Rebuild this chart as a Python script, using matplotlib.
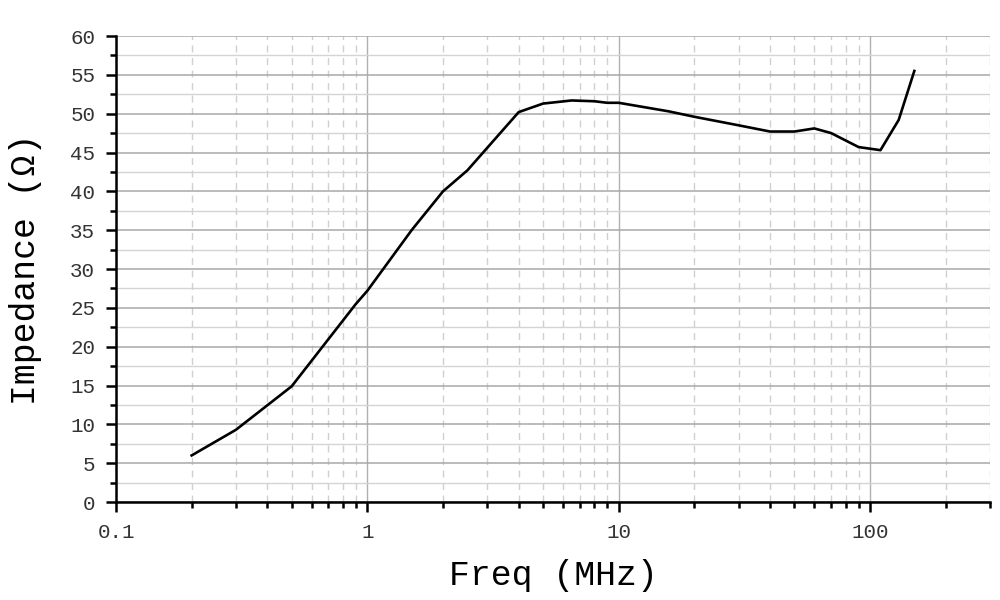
# librerías
import matplotlib
matplotlib.use("Agg")
import matplotlib.pyplot as plt
from matplotlib.ticker import FixedLocator, NullFormatter

# datos (MHz, ohm)
freq = [0.2, 0.3, 0.5, 0.9, 1.0, 1.5, 2.0, 2.5, 4.0, 5.0, 6.5, 8.0, 9.0, 10, 15.8, 20, 30, 40, 50, 60, 70, 90, 110, 130, 150]
imped = [6.0, 9.3, 14.9, 25.5, 27.2, 35.0, 40.0, 42.7, 50.2, 51.3, 51.7, 51.6, 51.4, 51.4, 50.3, 49.6, 48.5, 47.7, 47.7, 48.1, 47.5, 45.7, 45.3, 49.2, 55.5]

x_ticks = [0.1, 1, 10, 100]
x_labels = ["0.1", "1", "10", "100"]
y_ticks = list(range(0, 61, 5))

fuente = ["Liberation Mono", "DejaVu Sans Mono"]

fig = plt.figure(figsize=(10, 6), dpi=100)
ax = fig.add_axes([0.116, 0.1633, 0.874, 0.7767])

ax.set_xscale("log")
ax.set_xlim(0.1, 300)
ax.set_ylim(0, 60)

# rejilla
menores_x = [m * d for d in [0.1, 1, 10, 100] for m in range(2, 10) if m * d <= 300]
ax.xaxis.set_major_locator(FixedLocator(x_ticks))
ax.xaxis.set_minor_locator(FixedLocator(menores_x))
ax.xaxis.set_minor_formatter(NullFormatter())
ax.set_xticklabels(x_labels)
ax.set_yticks(y_ticks)
ax.set_yticks([v + 2.5 for v in y_ticks[:-1]], minor=True)

ax.grid(which="major", axis="y", color="#a8a8a8", lw=1.1)
ax.grid(which="minor", axis="y", color="#d4d4d4", lw=1.0)
ax.grid(which="major", axis="x", color="#b0b0b0", lw=1.0)
ax.grid(which="minor", axis="x", color="#d0d0d0", lw=1.0, ls=(0, (5, 4)))
ax.set_axisbelow(True)

ax.plot(freq, imped, color="black", lw=1.9)

# ejes
for lado in ["top", "right"]:
    ax.spines[lado].set_visible(False)
ax.spines["left"].set_linewidth(1.8)
ax.spines["bottom"].set_linewidth(1.8)
ax.tick_params(which="major", direction="out", length=7, width=1.8, pad=8, labelsize=15)
ax.tick_params(which="minor", direction="out", length=4, width=1.8)

for lbl in ax.get_xticklabels() + ax.get_yticklabels():
    lbl.set_family(fuente)
    lbl.set_color("#333333")

ax.set_xlabel("Freq (MHz)", family=fuente, fontsize=25, labelpad=12)
ax.set_ylabel("Impedance (Ω)", family=fuente, fontsize=25, labelpad=20)

fig.savefig("out.png", dpi=100)
